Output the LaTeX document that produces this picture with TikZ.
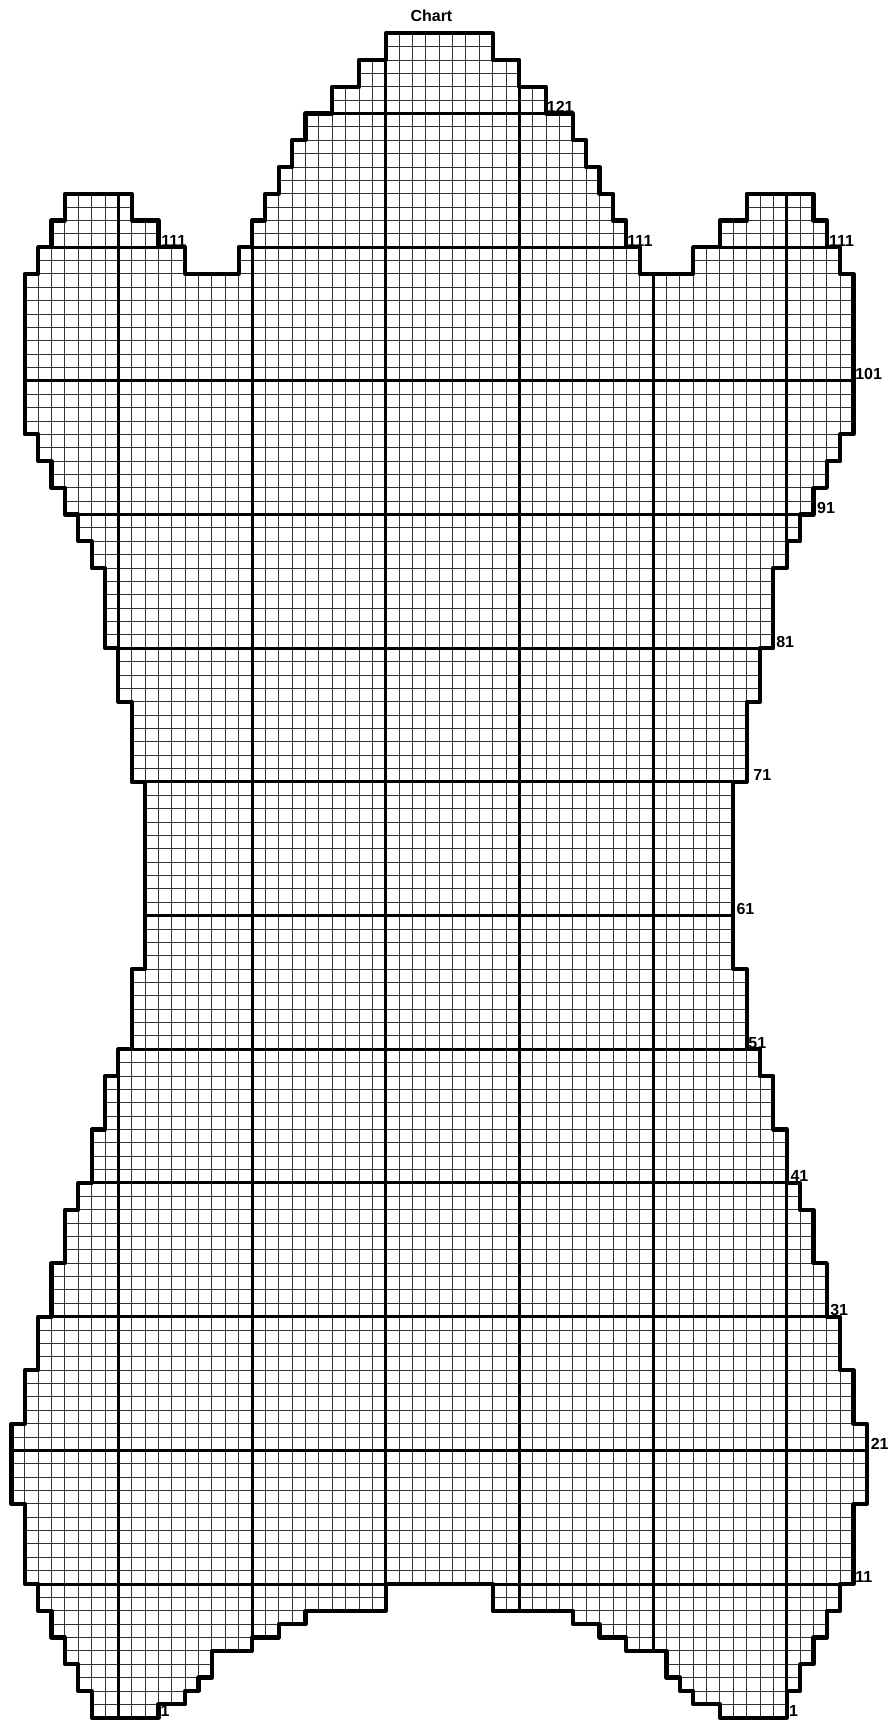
\documentclass[tikz,border=0pt]{standalone}
\usepackage{fontspec}
\setmainfont{Liberation Sans}
\newcommand\chartoutline{(6,0) -- (6,2) -- (5,2) -- (5,4) -- (4,4) -- (4,6) -- (3,6) -- (3,8) -- (2,8) -- (2,10) -- (1,10) -- (1,16) -- (0,16) -- (0,22) -- (1,22) -- (1,26) -- (2,26) -- (2,30) -- (3,30) -- (3,34) -- (4,34) -- (4,38) -- (5,38) -- (5,40) -- (6,40) -- (6,44) -- (7,44) -- (7,48) -- (8,48) -- (8,50) -- (9,50) -- (9,56) -- (10,56) -- (10,70) -- (9,70) -- (9,76) -- (8,76) -- (8,80) -- (7,80) -- (7,86) -- (6,86) -- (6,88) -- (5,88) -- (5,90) -- (4,90) -- (4,92) -- (3,92) -- (3,94) -- (2,94) -- (2,96) -- (1,96) -- (1,108) -- (2,108) -- (2,110) -- (3,110) -- (3,112) -- (4,112) -- (4,114) -- (9,114) -- (9,112) -- (11,112) -- (11,110) -- (13,110) -- (13,108) -- (17,108) -- (17,110) -- (18,110) -- (18,112) -- (19,112) -- (19,114) -- (20,114) -- (20,116) -- (21,116) -- (21,118) -- (22,118) -- (22,120) -- (24,120) -- (24,122) -- (26,122) -- (26,124) -- (28,124) -- (28,126) -- (36,126) -- (36,124) -- (38,124) -- (38,122) -- (40,122) -- (40,120) -- (42,120) -- (42,118) -- (43,118) -- (43,116) -- (44,116) -- (44,114) -- (45,114) -- (45,112) -- (46,112) -- (46,110) -- (47,110) -- (47,108) -- (51,108) -- (51,110) -- (53,110) -- (53,112) -- (55,112) -- (55,114) -- (60,114) -- (60,112) -- (61,112) -- (61,110) -- (62,110) -- (62,108) -- (63,108) -- (63,96) -- (62,96) -- (62,94) -- (61,94) -- (61,92) -- (60,92) -- (60,90) -- (59,90) -- (59,88) -- (58,88) -- (58,86) -- (57,86) -- (57,80) -- (56,80) -- (56,76) -- (55,76) -- (55,70) -- (54,70) -- (54,56) -- (55,56) -- (55,50) -- (56,50) -- (56,48) -- (57,48) -- (57,44) -- (58,44) -- (58,40) -- (59,40) -- (59,38) -- (60,38) -- (60,34) -- (61,34) -- (61,30) -- (62,30) -- (62,26) -- (63,26) -- (63,22) -- (64,22) -- (64,16) -- (63,16) -- (63,10) -- (62,10) -- (62,8) -- (61,8) -- (61,6) -- (60,6) -- (60,4) -- (59,4) -- (59,2) -- (58,2) -- (58,0) -- (53,0) -- (53,1) -- (51,1) -- (51,2) -- (50,2) -- (50,3) -- (49,3) -- (49,5) -- (46,5) -- (46,6) -- (44,6) -- (44,7) -- (42,7) -- (42,8) -- (36,8) -- (36,10) -- (28,10) -- (28,8) -- (22,8) -- (22,7) -- (20,7) -- (20,6) -- (18,6) -- (18,5) -- (15,5) -- (15,3) -- (14,3) -- (14,2) -- (13,2) -- (13,1) -- (11,1) -- (11,0) -- cycle}
\begin{document}
\begin{tikzpicture}[x=13.368pt,y=13.368pt,
  thingrid/.style={line width=0.9pt, black!80},
  thickgrid/.style={line width=3pt, black},
  outline/.style={line width=4.2pt, black, line join=round},
  rowlabel/.style={anchor=west, inner sep=0pt, font=\fontsize{16}{16}\selectfont\bfseries},
  charttitle/.style={inner sep=0pt, font=\fontsize{16}{16}\selectfont\bfseries}]
\useasboundingbox (-0.853,-0.172) rectangle (65.725,128.494);
\begin{scope}
  \clip \chartoutline;
  \foreach \c in {0,...,64} \draw[thingrid] (\c,0) -- (\c,126);
  \foreach \r in {0,...,126} \draw[thingrid] (0,\r) -- (64,\r);
  \foreach \c in {8,18,...,58} \draw[thickgrid] (\c,0) -- (\c,126);
  \foreach \r in {10,20,...,120} \draw[thickgrid] (0,\r) -- (64,\r);
\end{scope}
\draw[outline] \chartoutline;
\node[charttitle] (title) at (31.42,127.3) {Chart};
\node[rowlabel] (l121) at (40.04,120.5) {121};
\node[rowlabel] (l111a) at (11.21,110.5) {111};
\node[rowlabel] (l111b) at (46.07,110.5) {111};
\node[rowlabel] (l111c) at (61.16,110.5) {111};
\node[rowlabel] (l101) at (63.11,100.5) {101};
\node[rowlabel] (l91) at (60.26,90.5) {91};
\node[rowlabel] (l81) at (57.2,80.5) {81};
\node[rowlabel] (l71) at (55.49,70.5) {71};
\node[rowlabel] (l61) at (54.23,60.5) {61};
\node[rowlabel] (l51) at (55.12,50.5) {51};
\node[rowlabel] (l41) at (58.27,40.5) {41};
\node[rowlabel] (l31) at (61.24,30.5) {31};
\node[rowlabel] (l21) at (64.27,20.5) {21};
\node[rowlabel] (l11) at (63.11,10.5) {11};
\node[rowlabel] (l1r) at (58.17,0.5) {1};
\node[rowlabel] (l1l) at (11.14,0.5) {1};
\end{tikzpicture}
\end{document}
